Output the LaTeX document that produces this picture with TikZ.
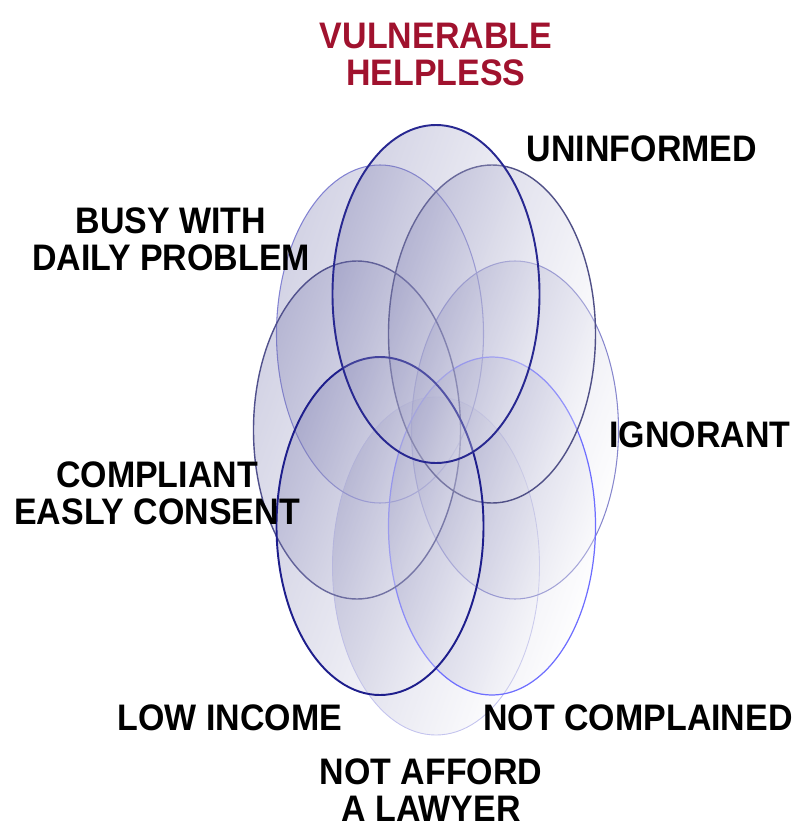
\documentclass[tikz,border=0pt]{standalone}
\usepackage{fontspec}
\setmainfont{Liberation Sans}
\usepackage{graphicx}
\usepackage{tikz}
\usetikzlibrary{shapes.geometric}

\definecolor{helpred}{RGB}{160,18,46}
\definecolor{ringfill}{RGB}{105,105,165}
\tikzset{ring/.style={ellipse,draw,line width=0.7pt,minimum width=41.4mm,minimum height=67.6mm,inner sep=0pt,
    left color=ringfill,right color=white,shading angle=70,fill opacity=0.3}}
\tikzset{lbl/.style={anchor=base,inner sep=0pt,font=\fontsize{21}{21.6}\selectfont\bfseries}}
\newcommand{\lbltext}[1]{\scalebox{0.92}[1]{\begin{tabular}[t]{@{}c@{}}#1\end{tabular}}}

\begin{document}
\begin{tikzpicture}[x=0.2mm,y=-0.2mm]
        \useasboundingbox (0,0) rectangle (801,829);

        \node[ring,draw={rgb,255:red,195;green,195;blue,238},line width=0.5pt] (f) at (436,566) {};
        \node[ring,draw={rgb,255:red,130;green,130;blue,210},line width=0.6pt] (h) at (380,334) {};
        \node[ring,draw={rgb,255:red,135;green,135;blue,205},line width=0.6pt] (c) at (515,430) {};
        \node[ring,draw={rgb,255:red,110;green,110;blue,255},line width=0.7pt] (d) at (492,526) {};
        \node[ring,draw={rgb,255:red,80;green,80;blue,140},line width=0.8pt] (g) at (357,430) {};
        \node[ring,draw={rgb,255:red,80;green,80;blue,135},line width=0.8pt] (b) at (492,334) {};
        \node[ring,draw={rgb,255:red,30;green,30;blue,140},line width=1.1pt] (e) at (380,526) {};
        \node[ring,draw={rgb,255:red,40;green,40;blue,145},line width=1.1pt] (a) at (436,294) {};

        \node[lbl,text=helpred] (ta) at (436,48) {\lbltext{VULNERABLE\\HELPLESS}};
        \node[lbl] (tb) at (642,161) {\lbltext{UNINFORMED}};
        \node[lbl] (tc) at (700,447) {\lbltext{IGNORANT}};
        \node[lbl] (td) at (638,730) {\lbltext{NOT COMPLAINED}};
        \node[lbl] (te) at (431,784) {\lbltext{NOT AFFORD\\A LAWYER}};
        \node[lbl] (tf) at (230,730) {\lbltext{LOW INCOME}};
        \node[lbl] (tg) at (157,487) {\lbltext{COMPLIANT\\EASLY CONSENT}};
        \node[lbl] (th) at (171,233) {\lbltext{BUSY WITH\\DAILY PROBLEM}};
    \end{tikzpicture}
\end{document}
